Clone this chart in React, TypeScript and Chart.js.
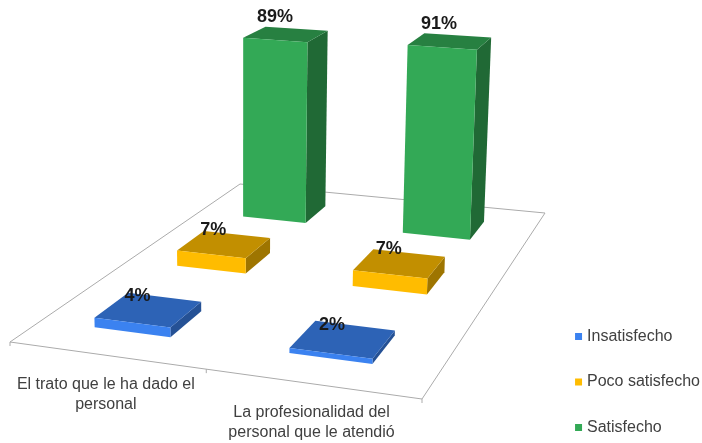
import React, { useEffect, useRef } from "react";
import { Chart, registerables } from "chart.js";

Chart.register(...registerables);

const categories = [
  ["El trato que le ha dado el", "personal"],
  ["La profesionalidad del", "personal que le atendió"],
];
const seriesNames = ["Insatisfecho", "Poco satisfecho", "Satisfecho"];
const insatisfecho = [4, 2];
const pocoSatisfecho = [7, 7];
const satisfecho = [89, 91];
const seriesValues = [insatisfecho, pocoSatisfecho, satisfecho];
const seriesColors = ["#3B82F0", "#FFBC00", "#33A956"];

type Pt = { x: number; y: number };

// Floor of the 3D scene: maps the plot's normalised (u, v) to the canvas.
const floorCorners = { fl: [10, 342], fr: [422, 399], br: [545, 213], bl: [240, 184] };
const depthFraction = 0.38;
const vanishX = 243;
const barShiftU = -0.006;

function makeHomography() {
  const { fl, fr, br, bl } = floorCorners;
  const dx1 = fr[0] - br[0], dx2 = bl[0] - br[0], sx = fl[0] - fr[0] + br[0] - bl[0];
  const dy1 = fr[1] - br[1], dy2 = bl[1] - br[1], sy = fl[1] - fr[1] + br[1] - bl[1];
  const det = dx1 * dy2 - dx2 * dy1;
  const g = (sx * dy2 - dx2 * sy) / det;
  const h = (dx1 * sy - sx * dy1) / det;
  const a = fr[0] - fl[0] + g * fr[0], b = bl[0] - fl[0] + h * bl[0], c = fl[0];
  const d = fr[1] - fl[1] + g * fr[1], e = bl[1] - fl[1] + h * bl[1], f = fl[1];
  return (u: number, v: number): Pt => {
    const w = g * u + h * v + 1;
    return { x: (a * u + b * v + c) / w, y: (d * u + e * v + f) / w };
  };
}

function lift(p: Pt, norm: number): Pt {
  const h = norm * (2.03 + 0.0035 * (p.y - 223));
  return { x: vanishX + (p.x - vanishX) * (1 + 0.000162 * h), y: p.y - h };
}

function shade(hex: string, k: number) {
  const n = parseInt(hex.slice(1), 16);
  return `rgb(${Math.round(((n >> 16) & 255) * k)},${Math.round(((n >> 8) & 255) * k)},${Math.round((n & 255) * k)})`;
}

function poly(ctx: CanvasRenderingContext2D, pts: Pt[], fill: string) {
  ctx.beginPath();
  pts.forEach((p, i) => (i ? ctx.lineTo(p.x, p.y) : ctx.moveTo(p.x, p.y)));
  ctx.closePath();
  ctx.fillStyle = fill;
  ctx.fill();
}

const scene3d = {
  id: "scene3d",
  beforeDatasetsDraw(chart: any) {
    const ctx: CanvasRenderingContext2D = chart.ctx;
    const area = chart.chartArea;
    const depth = chart.scales.depth;
    const P = makeHomography();

    ctx.save();
    // floor
    const c = [P(0, 0), P(1, 0), P(1, 1), P(0, 1)];
    ctx.beginPath();
    c.forEach((p, i) => (i ? ctx.lineTo(p.x, p.y) : ctx.moveTo(p.x, p.y)));
    ctx.closePath();
    ctx.strokeStyle = "#ABABAB";
    ctx.lineWidth = 1;
    ctx.stroke();
    [0, 0.5, 1].forEach((u) => {
      const p = P(u, 0);
      ctx.beginPath();
      ctx.moveTo(p.x, p.y);
      ctx.lineTo(p.x, p.y + 4);
      ctx.stroke();
    });

    const labels: { text: string; x: number; y: number }[] = [];
    for (let ds = chart.data.datasets.length - 1; ds >= 0; ds--) {
      const meta = chart.getDatasetMeta(ds);
      const color = chart.data.datasets[ds].backgroundColor;
      const vc = (depth.getPixelForValue(ds) - depth.top) / depth.height;
      const half = depthFraction / seriesNames.length / 2;
      meta.data.forEach((el: any, j: number) => {
        const u0 = (el.x - el.width / 2 - area.left) / area.width + barShiftU;
        const u1 = (el.x + el.width / 2 - area.left) / area.width + barShiftU;
        const fl = P(u0, vc - half), fr = P(u1, vc - half), br = P(u1, vc + half), bl = P(u0, vc + half);
        const value = chart.data.datasets[ds].data[j];
        const tfl = lift(fl, value), tfr = lift(fr, value), tbr = lift(br, value), tbl = lift(bl, value);
        poly(ctx, [fr, br, tbr, tfr], shade(color, 0.62));
        poly(ctx, [tfl, tfr, tbr, tbl], shade(color, 0.76));
        poly(ctx, [fl, fr, tfr, tfl], color);
        labels.push({
          text: `${value}%`,
          x: (tfl.x + tfr.x + tbr.x + tbl.x) / 4 - 11,
          y: (tfl.y + tfr.y + tbr.y + tbl.y) / 4 - 14 - value * 0.035,
        });
      });
    }

    // category labels
    ctx.fillStyle = "#404040";
    ctx.font = '16px "Liberation Sans"';
    ctx.textAlign = "center";
    ctx.textBaseline = "middle";
    categories.forEach((lines, j) => {
      const x = chart.scales.x.getPixelForValue(j);
      const p = P((x - area.left) / area.width, 0);
      lines.forEach((line, k) => ctx.fillText(line, p.x, p.y + 29 + k * 20));
    });

    // value labels
    ctx.fillStyle = "#1A1A1A";
    ctx.font = 'bold 18px "Liberation Sans"';
    labels.forEach((l) => ctx.fillText(l.text, l.x, l.y));
    ctx.restore();
    return false;
  },
};

export default function App() {
  const ref = useRef<HTMLCanvasElement>(null);
  useEffect(() => {
    document.body.style.margin = "0";
    const chart = new Chart(ref.current!, {
      type: "bar",
      data: {
        labels: categories as any,
        datasets: seriesNames.map((name, i) => ({
          label: name,
          data: seriesValues[i],
          backgroundColor: seriesColors[i],
        })),
      },
      plugins: [scene3d],
      options: {
        responsive: false,
        animation: false,
        layout: { padding: { right: -8, bottom: -22 } },
        datasets: { bar: { grouped: false, barPercentage: 0.4, categoryPercentage: 1 } },
        scales: {
          x: { display: false },
          y: { display: false, min: 0, max: 100 },
          depth: { type: "category", axis: "y", labels: seriesNames, offset: true, display: false },
        },
        plugins: {
          tooltip: { enabled: false },
          legend: {
            position: "right",
            align: "end",
            labels: {
              usePointStyle: true,
              pointStyle: "rect",
              boxWidth: 1,
              boxHeight: 7,
              padding: 29.5,
              color: "#404040",
              font: { family: '"Liberation Sans"', size: 16 },
            },
          },
        },
      } as any,
    });
    return () => chart.destroy();
  }, []);
  return <canvas ref={ref} width={702} height={443} style={{ display: "block", filter: "blur(0.5px)" }} />;
}
